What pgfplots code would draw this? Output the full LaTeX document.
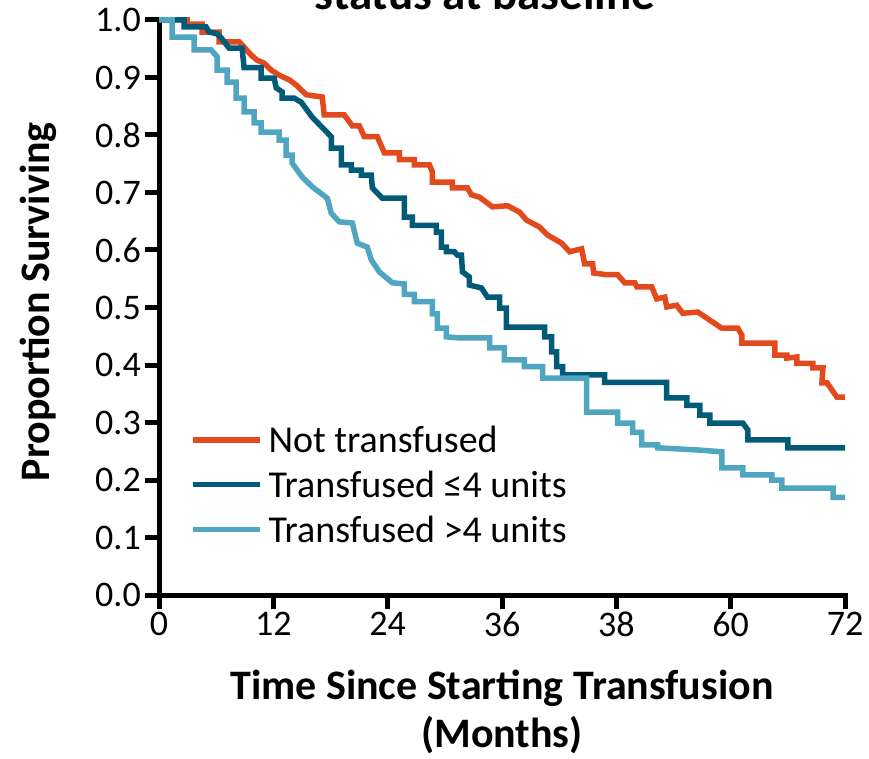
\documentclass[border=0pt]{standalone}
\usepackage{fontspec}
\setmainfont{Carlito}
\usepackage{pgfplots}
\pgfplotsset{compat=1.18}
\definecolor{cred}{RGB}{226,74,30}
\definecolor{cteal}{RGB}{1,90,119}
\definecolor{clight}{RGB}{80,165,193}
\begin{document}
\begin{tikzpicture}
\node[anchor=base, font=\fontsize{47}{50}\selectfont\bfseries] at (485pt,748pt) {status at baseline};
\begin{axis}[
  at={(159pt,163pt)}, anchor=south west,
  scale only axis, width=686pt, height=575pt,
  xmin=0, xmax=72, ymin=0, ymax=1,
  clip=false,
  axis x line*=bottom, axis y line*=left,
  axis line style={line width=5pt, -, line cap=rect},
  tick align=outside,
  major tick length=14pt,
  major tick style={line width=5pt, black},
  xtick={0,12,24,36,48,60,72},
  xticklabels={0,12,24,36,38,60,72},
  ytick={0,0.1,0.2,0.3,0.4,0.5,0.6,0.7,0.8,0.9,1.0},
  yticklabels={0.0,0.1,0.2,0.3,0.4,0.5,0.6,0.7,0.8,0.9,1.0},
  /pgf/number format/assume math mode=true,
  ticklabel style={font=\fontsize{36}{40}\selectfont},
  xticklabel style={inner sep=3pt},
  yticklabel style={inner sep=4pt},
  xlabel={Time Since Starting Transfusion\\(Months)},
  xlabel style={at={(axis description cs:0.5,0)}, anchor=north, yshift=-75pt, inner sep=0pt,
    align=center, font=\fontsize{42}{48}\selectfont\bfseries},
  ylabel={Proportion Surviving},
  ylabel style={at={(axis description cs:-0.176,0.51)}, anchor=center, inner sep=0pt,
    font=\fontsize{42}{47}\selectfont\bfseries},
  legend style={at={(axis description cs:0.045,0.298)}, anchor=north west, draw=none, fill=none,
    inner sep=0pt, font=\fontsize{38}{41}\selectfont, row sep=13pt,
    nodes={inner ysep=2pt, inner xsep=6pt}},
  legend cell align=left,
  legend image code/.code={\draw[#1] (0pt,0pt) -- (67pt,0pt);},
  every axis plot/.append style={line width=5.5pt},
]
\addplot[cred] coordinates {
(0,1.0) (2.94,1.0) (2.94,0.993) (4.52,0.993) (4.52,0.979) (6.31,0.979) (6.31,0.962) (8.41,0.962)
(8.93,0.953) (9.67,0.939) (10.30,0.930) (11.04,0.925) (11.77,0.913) (12.61,0.904) (13.66,0.896)
(14.40,0.887) (15.45,0.870) (17.13,0.866) (17.34,0.835) (19.44,0.835) (20.29,0.816) (21.02,0.816)
(21.55,0.797) (22.91,0.797) (23.65,0.769) (25.23,0.769) (25.23,0.757) (26.80,0.757) (26.80,0.748)
(28.38,0.748) (28.69,0.736) (28.69,0.718) (30.80,0.718) (30.80,0.708) (32.37,0.708) (32.79,0.696)
(33.63,0.692) (35.00,0.675) (36.58,0.677) (37.84,0.666) (38.57,0.652) (39.94,0.640) (40.78,0.626)
(42.25,0.612) (43.09,0.597) (44.36,0.602) (44.67,0.576) (45.51,0.576) (45.62,0.560) (46.98,0.557)
(48.14,0.557) (48.88,0.543) (49.93,0.543) (50.14,0.536) (51.71,0.536) (52.24,0.515) (53.08,0.518)
(53.29,0.501) (54.34,0.504) (54.97,0.490) (56.55,0.492) (59.07,0.464) (60.75,0.464) (61.17,0.452)
(61.17,0.438) (64.64,0.438) (64.64,0.417) (65.90,0.417) (65.90,0.412) (66.95,0.414) (66.95,0.403)
(68.64,0.403) (68.64,0.395) (69.69,0.395) (69.58,0.369) (70.11,0.369) (71.16,0.344) (72,0.344)
};
\addplot[cteal] coordinates {
(0,1.0) (2.63,1.0) (2.63,0.988) (4.94,0.988) (5.26,0.979) (6.10,0.976) (6.52,0.969) (7.36,0.951)
(8.72,0.951) (8.93,0.917) (10.72,0.917) (10.72,0.899) (12.09,0.899) (12.30,0.882) (12.93,0.875)
(12.93,0.864) (14.19,0.864) (14.93,0.857) (16.08,0.831) (18.08,0.797) (18.08,0.777) (19.13,0.777)
(19.13,0.748) (20.18,0.748) (20.18,0.739) (21.23,0.739) (21.23,0.730) (22.28,0.730) (22.39,0.708)
(23.44,0.690) (25.75,0.690) (25.75,0.657) (26.59,0.657) (26.59,0.643) (29.11,0.643) (29.11,0.631)
(29.64,0.631) (29.64,0.605) (30.17,0.605) (30.17,0.597) (31.01,0.597) (31.32,0.591) (31.74,0.591)
(31.85,0.562) (32.58,0.553) (32.58,0.539) (33.84,0.534) (34.48,0.518) (35.74,0.518) (35.74,0.499)
(36.47,0.499) (36.47,0.466) (40.47,0.466) (40.47,0.449) (41.20,0.449) (41.20,0.423) (41.73,0.423)
(41.73,0.397) (42.36,0.397) (42.36,0.383) (46.77,0.383) (46.77,0.370) (53.29,0.370) (53.29,0.343)
(55.39,0.343) (55.39,0.330) (56.76,0.330) (56.76,0.313) (57.81,0.313) (57.81,0.299) (61.28,0.299)
(61.80,0.287) (61.80,0.270) (66.01,0.270) (66.01,0.256) (72,0.256)
};
\addplot[clight] coordinates {
(0,1.0) (1.37,1.0) (1.37,0.970) (3.68,0.970) (3.68,0.948) (5.47,0.948) (6.10,0.936) (6.10,0.913)
(7.15,0.913) (7.15,0.892) (8.09,0.892) (8.09,0.864) (8.93,0.864) (8.93,0.840) (9.99,0.840)
(9.99,0.821) (10.72,0.821) (10.72,0.805) (12.61,0.805) (12.61,0.791) (13.35,0.791) (13.35,0.765)
(13.98,0.765) (13.98,0.751) (15.03,0.727) (16.08,0.710) (17.66,0.690) (18.08,0.664) (18.92,0.649)
(20.29,0.647) (20.81,0.612) (21.86,0.605) (22.28,0.583) (23.12,0.562) (24.49,0.543) (25.75,0.541)
(25.75,0.523) (26.80,0.523) (26.80,0.510) (28.69,0.510) (28.69,0.489) (29.22,0.489) (29.22,0.464)
(30.17,0.464) (30.17,0.449) (31.53,0.447) (34.69,0.447) (34.69,0.430) (36.26,0.430) (36.26,0.409)
(38.36,0.409) (38.36,0.397) (40.26,0.397) (40.26,0.377) (44.88,0.377) (44.88,0.318) (48.14,0.318)
(48.14,0.299) (49.72,0.299) (49.72,0.283) (50.66,0.283) (50.66,0.261) (52.34,0.261) (52.34,0.256)
(56.76,0.252) (59.07,0.249) (59.07,0.221) (61.28,0.221) (61.28,0.209) (64.33,0.209) (64.33,0.200)
(65.38,0.200) (65.38,0.186) (70.74,0.186) (70.74,0.170) (72,0.170)
};
\legend{Not transfused,Transfused ≤4 units,Transfused >4 units}
\end{axis}
\pgfresetboundingbox
\path[use as bounding box] (0pt,0pt) rectangle (869pt,758pt);
\end{tikzpicture}
\end{document}
